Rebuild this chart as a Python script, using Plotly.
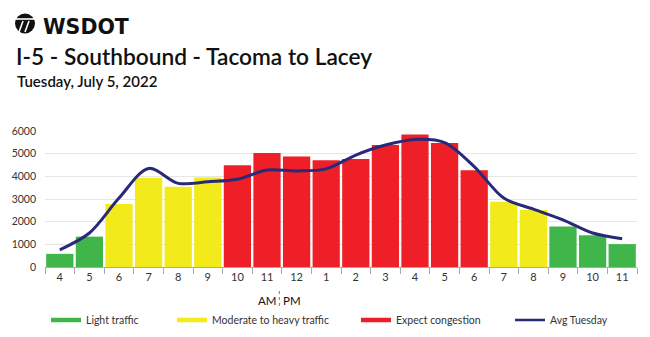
import plotly.graph_objects as go

# ---- data ----
hours = ["4", "5", "6", "7", "8", "9", "10", "11", "12", "1", "2", "3", "4", "5", "6", "7", "8", "9", "10", "11"]
volume = [580, 1340, 2780, 3940, 3540, 3950, 4490, 5030, 4880, 4710, 4760, 5380, 5850, 5470, 4270, 2880, 2510, 1790, 1400, 1010]
level = ["light", "light", "moderate", "moderate", "moderate", "moderate", "heavy", "heavy", "heavy", "heavy",
         "heavy", "heavy", "heavy", "heavy", "heavy", "moderate", "moderate", "light", "light", "light"]
avg_tuesday = [760, 1500, 3040, 4350, 3690, 3760, 3870, 4280, 4240, 4330, 4940, 5380, 5630, 5490, 4430, 3040, 2550, 2080, 1500, 1250]
y_ticks = [0, 1000, 2000, 3000, 4000, 5000, 6000]

GREEN = "#40b64a"
YELLOW = "#f2ea1a"
RED = "#ee1f27"
NAVY = "#29297a"
colors = {"light": GREEN, "moderate": YELLOW, "heavy": RED}
labels = {"light": "Light traffic", "moderate": "Moderate to heavy traffic", "heavy": "Expect congestion"}

W, H = 650, 337
L, R, T, B = 45, 13, 131, 70
PW, PH = W - L - R, H - T - B


def px(x):
    return (x - L) / PW


def py(y):
    return (H - B - y) / PH


xs = list(range(len(hours)))
fig = go.Figure()

for key in ["light", "moderate", "heavy"]:
    fig.add_trace(go.Bar(
        x=xs,
        y=[v if lv == key else None for v, lv in zip(volume, level)],
        marker=dict(color=colors[key], line=dict(width=0)),
        showlegend=False,
        hoverinfo="skip",
    ))

fig.add_trace(go.Scatter(
    x=xs, y=avg_tuesday, mode="lines",
    line=dict(color=NAVY, width=3, shape="spline", smoothing=0.9),
    showlegend=False,
))

# legend entries (one legend per entry for placement)
legend_names = ["legend", "legend2", "legend3", "legend4"]
entries = [(labels["light"], GREEN, 4.5), (labels["moderate"], YELLOW, 4.5),
           (labels["heavy"], RED, 4.5), ("Avg Tuesday", NAVY, 2.5)]
text_x = [86, 212, 396, 550]
for (name, col, wdt), lg in zip(entries, legend_names):
    fig.add_trace(go.Scatter(x=[None], y=[None], mode="lines", name=name,
                             line=dict(color=col, width=wdt), legend=lg, showlegend=True))

legend_common = dict(orientation="h", xref="container", yref="container", xanchor="left", yanchor="middle",
                     font=dict(family="Lato", size=10.5, color="#333"), bgcolor="rgba(0,0,0,0)",
                     itemwidth=30, borderwidth=0)
layout_legends = {}
for lg, tx in zip(legend_names, text_x):
    layout_legends[lg] = dict(x=(tx - 40) / W, y=1 - 320 / H, **legend_common)

fig.update_layout(
    width=W, height=H,
    margin=dict(l=L, r=R, t=T, b=B),
    paper_bgcolor="white", plot_bgcolor="white",
    barmode="overlay", bargap=0.08,
    font=dict(family="Lato", color="#333"),
    **layout_legends,
)

fig.update_xaxes(
    range=[-0.5, len(hours) - 0.5],
    tickmode="array", tickvals=xs, ticktext=hours,
    ticks="", showgrid=False, zeroline=False,
    showline=True, linecolor="#aaaaaa", linewidth=1,
    tickfont=dict(family="Lato", size=11, color="#333"),
    minor=dict(ticks="outside", tick0=0.5, dtick=1, ticklen=6, tickcolor="#aaaaaa", showgrid=False),
    fixedrange=True,
)
fig.update_yaxes(
    range=[0, 6000], tickmode="array", tickvals=y_ticks,
    showgrid=True, gridcolor="#e6e6e6", gridwidth=1, zeroline=False,
    tickfont=dict(family="Lato", size=10.5, color="#333"),
    ticks="", ticklabelstandoff=8, fixedrange=True,
)

# titles
fig.add_annotation(text="WSDOT", xref="paper", yref="paper", x=px(41), y=py(27),
                   xanchor="left", yanchor="middle", showarrow=False,
                   font=dict(family="DejaVu Sans", size=20.5, color="#111", weight=700))
fig.add_annotation(text="I-5 - Southbound - Tacoma to Lacey", xref="paper", yref="paper", x=px(14), y=py(56),
                   xanchor="left", yanchor="middle", showarrow=False,
                   font=dict(family="Lato", size=22.7, color="#111", weight=600))
fig.add_annotation(text="Tuesday, July 5, 2022", xref="paper", yref="paper", x=px(15), y=py(81),
                   xanchor="left", yanchor="middle", showarrow=False,
                   font=dict(family="Lato", size=15, color="#111", weight=600))

# logo
fig.add_shape(type="circle", xref="paper", yref="paper", x0=px(15), x1=px(35), y0=py(13.5), y1=py(33.5),
              fillcolor="#111", line=dict(width=0))
fig.add_shape(type="line", xref="paper", yref="paper", x0=px(15), x1=px(35), y0=py(19), y1=py(19),
              line=dict(color="white", width=1.6))
fig.add_shape(type="line", xref="paper", yref="paper", x0=px(23), x1=px(19), y0=py(21), y1=py(32),
              line=dict(color="white", width=1.6))
fig.add_shape(type="line", xref="paper", yref="paper", x0=px(29), x1=px(25), y0=py(21), y1=py(32),
              line=dict(color="white", width=1.6))

# AM | PM
fig.add_annotation(text="AM", xref="paper", yref="paper", x=px(278), y=py(300),
                   xanchor="right", yanchor="middle", showarrow=False,
                   font=dict(family="Lato", size=11.5, color="#111"))
fig.add_annotation(text="PM", xref="paper", yref="paper", x=px(280.5), y=py(300),
                   xanchor="left", yanchor="middle", showarrow=False,
                   font=dict(family="Lato", size=11.5, color="#111"))
fig.add_shape(type="line", xref="paper", yref="paper", x0=px(279.3), x1=px(279.3), y0=py(291), y1=py(308),
              line=dict(color="#777", width=1, dash="dot"))

fig.write_html("out.html")
